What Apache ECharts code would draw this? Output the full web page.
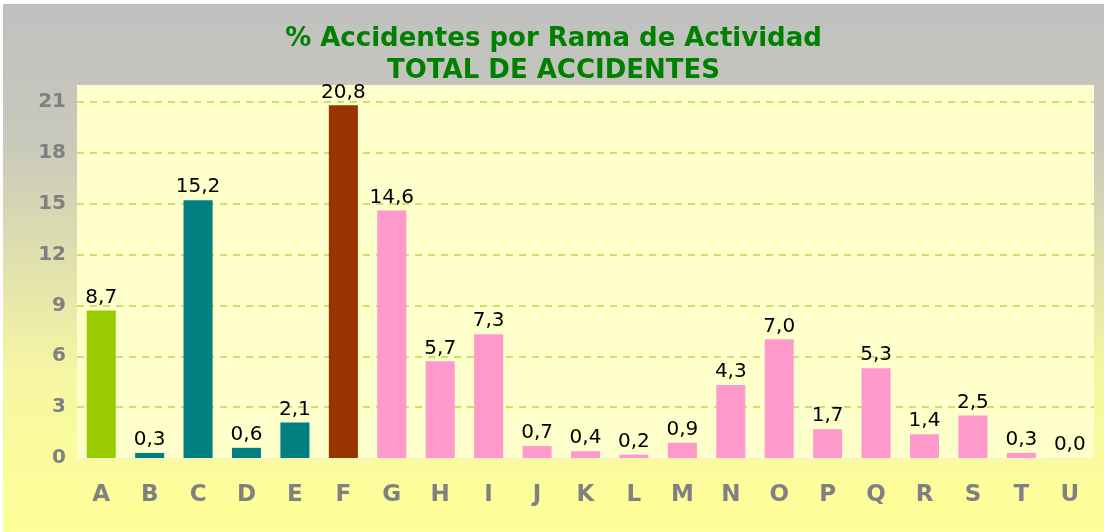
<!DOCTYPE html>
<html lang="es">
<head>
    <meta charset="UTF-8">
    <title>% Accidentes por Rama de Actividad</title>
    <script src="https://cdn.jsdelivr.net/npm/echarts@6/dist/echarts.min.js"></script>
    <style>
        html, body { margin: 0; padding: 0; background: #fff; }
        #chart { position: absolute; left: 3px; top: 4px; width: 1101px; height: 528px; }
    </style>
</head>
<body>
    <div id="chart"></div>
    <script>
        // datos
        var categories = ['A', 'B', 'C', 'D', 'E', 'F', 'G', 'H', 'I', 'J', 'K', 'L', 'M', 'N', 'O', 'P', 'Q', 'R', 'S', 'T', 'U'];
        var values = [8.7, 0.3, 15.2, 0.6, 2.1, 20.8, 14.6, 5.7, 7.3, 0.7, 0.4, 0.2, 0.9, 4.3, 7.0, 1.7, 5.3, 1.4, 2.5, 0.3, 0.0];
        var yTicks = [0, 3, 6, 9, 12, 15, 18, 21];

        // colores por rama
        function barColor(i) {
            if (i === 0) return '#99CC00';
            if (i <= 4) return '#008080';
            if (i === 5) return '#993300';
            return '#FF99CC';
        }

        var chart = echarts.init(document.getElementById('chart'));

        var seriesData = values.map(function (v, i) {
            return { value: v, itemStyle: { color: barColor(i) } };
        });

        // línea de cuadrícula: ocultar la del 0 y la del borde superior
        var gridColors = yTicks.map(function (t) { return t === 0 ? 'rgba(0,0,0,0)' : '#BBD84A'; });
        gridColors.push('rgba(0,0,0,0)');

        var option = {
            backgroundColor: new echarts.graphic.LinearGradient(0, 0, 0, 1, [
                { offset: 0, color: '#C0C0C0' },
                { offset: 0.25, color: '#C8C8BC' },
                { offset: 0.7, color: '#F6F6A2' },
                { offset: 1, color: '#FFFF99' }
            ]),
            title: {
                text: '% Accidentes por Rama de Actividad\nTOTAL DE ACCIDENTES',
                left: 'center',
                top: 14,
                textStyle: {
                    color: '#008000',
                    fontFamily: 'DejaVu Sans',
                    fontWeight: 'bold',
                    fontSize: 26,
                    lineHeight: 32
                }
            },
            grid: {
                left: 74,
                right: 10,
                top: 81,
                bottom: 74,
                show: true,
                backgroundColor: '#FFFFCC',
                borderWidth: 0
            },
            xAxis: {
                type: 'category',
                data: categories,
                axisLine: { lineStyle: { color: '#F2F2D8', width: 1 } },
                axisTick: { show: true, length: 4, lineStyle: { color: '#F2F2D8' } },
                axisLabel: {
                    color: '#808080',
                    fontFamily: 'DejaVu Sans',
                    fontWeight: 'bold',
                    fontSize: 23,
                    margin: 26
                }
            },
            yAxis: {
                type: 'value',
                min: 0,
                max: 22,
                interval: 3,
                axisLine: { show: false },
                axisTick: { show: false },
                axisLabel: {
                    showMaxLabel: false,
                    color: '#808080',
                    fontFamily: 'DejaVu Sans',
                    fontWeight: 'bold',
                    fontSize: 20,
                    margin: 11
                },
                splitLine: {
                    lineStyle: { color: gridColors, type: [7, 6], width: 1.5 }
                }
            },
            series: [
                {
                    type: 'bar',
                    barWidth: '60%',
                    data: seriesData,
                    label: {
                        show: true,
                        position: 'top',
                        distance: 3,
                        color: '#000',
                        fontFamily: 'DejaVu Sans',
                        fontSize: 20,
                        formatter: function (p) {
                            return p.value.toFixed(1).replace('.', ',');
                        }
                    }
                }
            ]
        };

        chart.setOption(option);
    </script>
</body>
</html>
